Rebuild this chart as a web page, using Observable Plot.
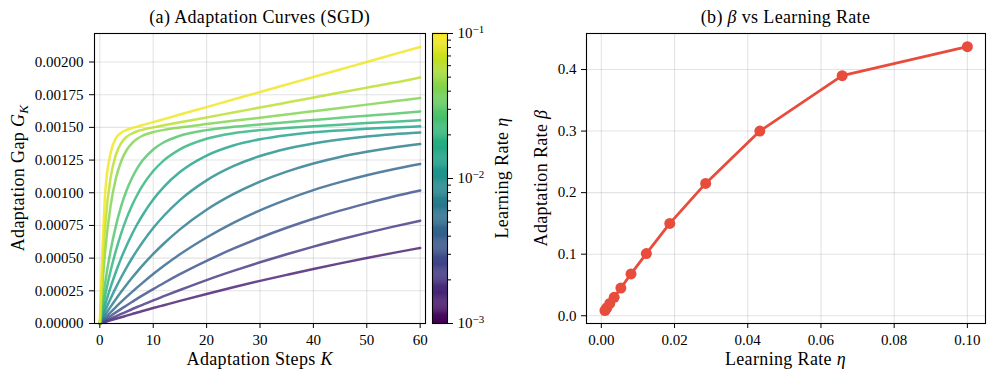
<!DOCTYPE html>
<html><head><meta charset="utf-8">
<script src="https://cdn.jsdelivr.net/npm/d3@7"></script>
<script src="https://cdn.jsdelivr.net/npm/@observablehq/plot@0.6"></script>
<style>
html,body{margin:0;padding:0;background:#fff;}
#fig{position:relative;width:996px;height:381px;overflow:hidden;font-family:"Liberation Serif",serif;}
#fig svg{position:absolute;top:0;}
</style></head><body><div id="fig"></div>
<script>
// ---------- data ----------
const learningRates = [0.001, 0.00152, 0.00231, 0.00351, 0.00534, 0.00811, 0.0123, 0.0187, 0.0285, 0.0433, 0.0658, 0.1];
const adaptationRates = [0.0085, 0.013, 0.020, 0.030, 0.045, 0.068, 0.101, 0.150, 0.215, 0.300, 0.390, 0.437];
const steps = [0,1,2,3,4,5,6,7,8,10,12,15,20,25,30,35,40,45,50,55,60];

const gap01 = [0,0.000012,0.000024,0.000036,0.000048,0.000060,0.000072,0.000084,0.000095,0.000118,0.000140,0.000173,0.000226,0.000277,0.000326,0.000372,0.000417,0.000460,0.000501,0.000540,0.000578];
const gap02 = [0,0.000019,0.000037,0.000055,0.000073,0.000091,0.000109,0.000126,0.000143,0.000177,0.000209,0.000256,0.000332,0.000402,0.000468,0.000530,0.000588,0.000642,0.000693,0.000741,0.000786];
const gap03 = [0,0.000029,0.000057,0.000085,0.000112,0.000138,0.000164,0.000190,0.000215,0.000263,0.000310,0.000377,0.000479,0.000572,0.000656,0.000732,0.000801,0.000863,0.000919,0.000971,0.001017];
const gap04 = [0,0.000043,0.000085,0.000126,0.000165,0.000203,0.000240,0.000276,0.000311,0.000378,0.000441,0.000529,0.000658,0.000770,0.000866,0.000948,0.001020,0.001081,0.001134,0.001180,0.001220];
const gap05 = [0,0.000065,0.000127,0.000186,0.000242,0.000296,0.000348,0.000397,0.000444,0.000532,0.000612,0.000720,0.000870,0.000989,0.001085,0.001162,0.001224,0.001274,0.001313,0.001346,0.001372];
const gap06 = [0,0.000098,0.000189,0.000274,0.000354,0.000428,0.000497,0.000561,0.000621,0.000730,0.000824,0.000944,0.001095,0.001203,0.001281,0.001337,0.001377,0.001407,0.001430,0.001447,0.001460];
const gap07 = [0,0.000145,0.000276,0.000394,0.000500,0.000595,0.000681,0.000759,0.000828,0.000948,0.001045,0.001158,0.001284,0.001361,0.001409,0.001440,0.001462,0.001477,0.001489,0.001499,0.001508];
const gap08 = [0,0.000216,0.000400,0.000556,0.000690,0.000804,0.000901,0.000983,0.001054,0.001166,0.001248,0.001332,0.001413,0.001455,0.001479,0.001495,0.001509,0.001521,0.001533,0.001543,0.001554];
const gap09 = [0,0.000310,0.000554,0.000745,0.000897,0.001017,0.001111,0.001186,0.001246,0.001331,0.001386,0.001436,0.001479,0.001504,0.001522,0.001540,0.001556,0.001573,0.001589,0.001605,0.001622];
const gap10 = [0,0.000554,0.000896,0.001109,0.001241,0.001325,0.001378,0.001413,0.001436,0.001464,0.001481,0.001499,0.001525,0.001550,0.001574,0.001599,0.001624,0.001649,0.001674,0.001699,0.001724];
const gap11 = [0,0.000749,0.001112,0.001290,0.001380,0.001427,0.001453,0.001470,0.001482,0.001500,0.001516,0.001539,0.001576,0.001614,0.001652,0.001690,0.001728,0.001766,0.001804,0.001841,0.001882];
const gap12 = [0,0.000995,0.001300,0.001416,0.001459,0.001480,0.001494,0.001506,0.001518,0.001540,0.001563,0.001598,0.001655,0.001713,0.001770,0.001828,0.001885,0.001943,0.002000,0.002058,0.002115];

const stepTicks = [0,10,20,30,40,50,60];
const gapTicks = [0,0.00025,0.0005,0.00075,0.001,0.00125,0.0015,0.00175,0.002];
const lrTicks = [0,0.02,0.04,0.06,0.08,0.10];
const betaTicks = [0,0.1,0.2,0.3,0.4];
const cbarMajor = [0.001,0.01,0.1];
const cbarMinor = [0.002,0.003,0.004,0.005,0.006,0.007,0.008,0.009,0.02,0.03,0.04,0.05,0.06,0.07,0.08,0.09];

// ---------- tables ----------
const gapSeries = [gap01,gap02,gap03,gap04,gap05,gap06,gap07,gap08,gap09,gap10,gap11,gap12];
const curveRows = gapSeries.flatMap((g, i) => steps.map((k, j) => ({K: k, G: g[j], eta: learningRates[i]})));
const betaRows = learningRates.map((e, i) => ({eta: e, beta: adaptationRates[i]}));
const NB = 300;
const bands = d3.range(NB).map(i => ({x1: 0, x2: 1,
  lo: Math.pow(10, -3 + 2 * i / NB), hi: Math.pow(10, -3 + 2 * (i + 1.3) / NB), mid: Math.pow(10, -3 + 2 * (i + 0.5) / NB)}));

const FONT = '"Liberation Serif", serif';
const baseStyle = {fontFamily: FONT, fontSize: "15px", background: "transparent", overflow: "visible", color: "black"};
const colorScale = {type: "log", scheme: "viridis", domain: [1e-3, 1e-1]};
const lineColorScale = {type: "log", scheme: "viridis", domain: [6.6e-4, 0.115]};
const gridStyle = {stroke: "#b0b0b0", strokeOpacity: 0.35, strokeWidth: 1.1};

const left = Plot.plot({
  width: 430, height: 381, marginLeft: 94, marginRight: 5, marginTop: 33, marginBottom: 58,
  style: baseStyle,
  x: {domain: [-1, 61]}, y: {domain: [0, 0.002218]}, color: lineColorScale,
  marks: [
    Plot.gridX({ticks: stepTicks, ...gridStyle}),
    Plot.gridY({ticks: gapTicks, ...gridStyle}),
    Plot.line(curveRows, {x: "K", y: "G", z: "eta", stroke: "eta", strokeWidth: 2.5, strokeOpacity: 0.82, curve: "monotone-x"}),
    Plot.frame({stroke: "black", strokeWidth: 1.1}),
    Plot.axisX({ticks: stepTicks, tickSize: 5, tickPadding: 6, tickFormat: d => String(d), label: null}),
    Plot.axisY({ticks: gapTicks, tickSize: 5, tickPadding: 6, tickFormat: d3.format(".5f"), label: null})
  ]
});
left.style.left = "0px";

const cbar = Plot.plot({
  width: 80, height: 381, marginLeft: 12, marginRight: 53, marginTop: 33, marginBottom: 58,
  style: baseStyle,
  x: {domain: [0, 1], axis: null}, y: {type: "log", domain: [1e-3, 1e-1]}, color: colorScale,
  marks: [
    Plot.rect(bands, {x1: "x1", x2: "x2", y1: "lo", y2: "hi", fill: "mid"}),
    Plot.frame({stroke: "black", strokeWidth: 1.1}),
    Plot.axisY({anchor: "right", ticks: cbarMinor, tickSize: 3, tickFormat: () => "", label: null}),
    Plot.axisY({anchor: "right", ticks: cbarMajor, tickSize: 5, tickPadding: 5, tickFormat: d => "10^" + Math.round(Math.log10(d)), label: null})
  ]
});
cbar.style.left = "420px";

const right = Plot.plot({
  width: 496, height: 381, marginLeft: 86, marginRight: 11, marginTop: 33, marginBottom: 58,
  style: baseStyle,
  x: {domain: [-0.00405, 0.10495]}, y: {domain: [-0.0126, 0.4585]},
  marks: [
    Plot.gridX({ticks: lrTicks, ...gridStyle}),
    Plot.gridY({ticks: betaTicks, ...gridStyle}),
    Plot.line(betaRows, {x: "eta", y: "beta", stroke: "#e74c3c", strokeWidth: 2.8}),
    Plot.dot(betaRows, {x: "eta", y: "beta", r: 5.5, fill: "#e74c3c"}),
    Plot.frame({stroke: "black", strokeWidth: 1.1}),
    Plot.axisX({ticks: lrTicks, tickSize: 5, tickPadding: 6, tickFormat: d3.format(".2f"), label: null}),
    Plot.axisY({ticks: betaTicks, tickSize: 5, tickPadding: 5, tickFormat: d3.format(".1f"), label: null})
  ]
});
right.style.left = "500px";

const fig = document.getElementById("fig");
fig.append(left, cbar, right);

// superscript exponents on colorbar labels
d3.select(cbar).selectAll("text").each(function() {
  const s = this.textContent;
  const m = /^10\^(-?\d+)$/.exec(s);
  if (!m) return;
  const t = d3.select(this);
  t.text("");
  t.append("tspan").text("10");
  t.append("tspan").attr("dy", "-0.5em").attr("font-size", "11px").text(m[1].replace("-", "\u2212"));
});

// ---------- titles and axis labels ----------
const ov = d3.select(fig).append("svg").attr("width", 996).attr("height", 381)
  .style("left", "0px").attr("font-family", FONT);
function label(x, y, parts, rot, size = 18) {
  const t = ov.append("text")
    .attr("transform", `translate(${x},${y})` + (rot ? " rotate(-90)" : ""))
    .attr("text-anchor", "middle").attr("font-size", size).attr("letter-spacing", 0.35).attr("fill", "black");
  for (const [s, kind] of parts) {
    const ts = t.append("tspan").text(s);
    if (kind === "i" || kind === "isub") ts.attr("font-style", "italic");
    if (kind === "isub") ts.attr("font-size", 13).attr("dy", 4);
  }
}
label(259.7, 22.5, [["(a) Adaptation Curves (SGD)", ""]], false);
label(785.5, 22.5, [["(b) ", ""], ["\u03b2", "i"], [" vs Learning Rate", ""]], false);
label(259.7, 365, [["Adaptation Steps ", ""], ["K", "i"]], false);
label(785.5, 365, [["Learning Rate ", ""], ["\u03b7", "i"]], false);
label(24, 178, [["Adaptation Gap ", ""], ["G", "i"], ["K", "isub"]], true);
label(546.5, 178, [["Adaptation Rate ", ""], ["\u03b2", "i"]], true);
label(507.5, 178, [["Learning Rate ", ""], ["\u03b7", "i"]], true);
</script></body></html>
